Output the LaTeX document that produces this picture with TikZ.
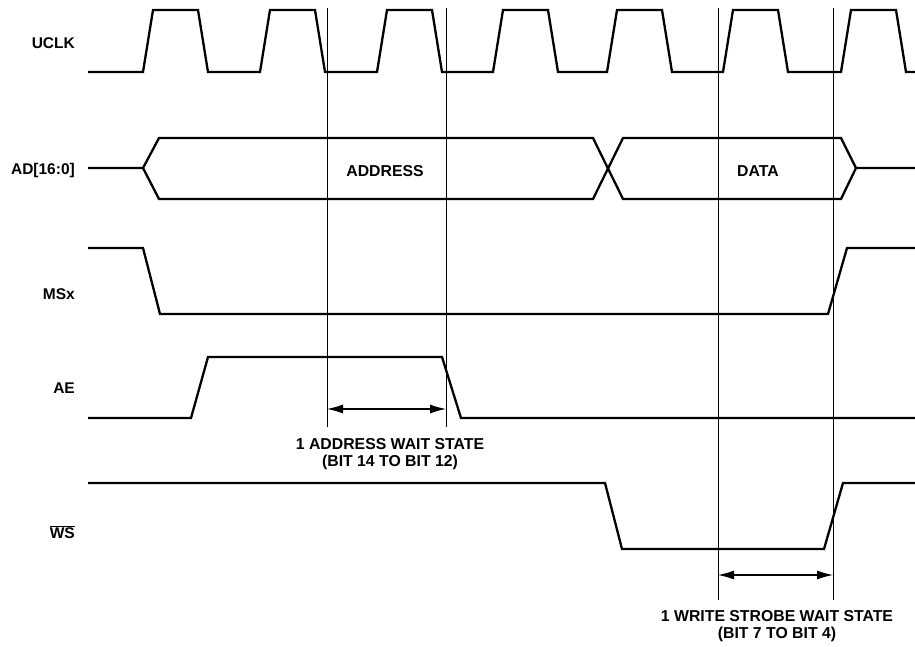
\documentclass[tikz,border=0pt]{standalone}
\usepackage{fontspec}
\setmainfont{Liberation Sans}
\usetikzlibrary{arrows.meta}
\begin{document}
\begin{tikzpicture}[x=1pt,y=-1pt,
  sig/.style={line width=2.3pt,line join=miter},
  guide/.style={line width=0.9pt},
  dim/.style={line width=1.1pt,{Latex[length=16pt,width=9pt]}-{Latex[length=16pt,width=9pt]}},
  lbl/.style={font=\fontsize{15.5}{17}\selectfont\bfseries,inner sep=0pt,anchor=east},
  txt/.style={font=\fontsize{15.8}{17.5}\selectfont\bfseries,inner sep=0pt,align=center}]
\useasboundingbox (0,0) rectangle (915,646);
% labels
\node[lbl] (lclk) at (75,43) {UCLK};
\node[lbl] (lad) at (75,170) {AD[16:0]};
\node[lbl] (lms) at (75,294) {MSx};
\node[lbl] (lae) at (75,388) {AE};
\node[lbl] (lws) at (75,532) {$\overline{\mbox{WS}}$};
% UCLK
\draw[sig] (88,72)
  \foreach \r in {143,260,377,493,607,723,841} {
    -- (\r,72) -- (\r+10,10) -- (\r+55,10) -- (\r+65,72)
  } -- (915,72);
% AD bus
\draw[sig] (88,168) -- (143,168) -- (159,138) -- (593,138) -- (623,199) -- (841,199) -- (856,168) -- (915,168);
\draw[sig] (143,168) -- (159,199) -- (593,199) -- (623,138) -- (841,138) -- (856,168);
\node[txt] (addr) at (385,171) {ADDRESS};
\node[txt] (data) at (758,171) {DATA};
% MSx
\draw[sig] (88,248) -- (143,248) -- (160,314) -- (828,314) -- (847,248) -- (915,248);
% AE
\draw[sig] (88,418) -- (191,418) -- (208,357) -- (442,357) -- (461,418) -- (915,418);
% WS
\draw[sig] (88,483) -- (605,483) -- (622,549) -- (824,549) -- (843,483) -- (915,483);
% guide lines
\coordinate (g1t) at (327,8); \coordinate (g1b) at (327,427);
\coordinate (g2t) at (446,8); \coordinate (g2b) at (446,427);
\coordinate (g3t) at (718,8); \coordinate (g3b) at (718,600);
\coordinate (g4t) at (833,8); \coordinate (g4b) at (833,600);
\draw[guide] (g1t) -- (g1b);
\draw[guide] (g2t) -- (g2b);
\draw[guide] (g3t) -- (g3b);
\draw[guide] (g4t) -- (g4b);
% dimension arrows
\coordinate (a1) at (327,409); \coordinate (a2) at (446,409);
\coordinate (b1) at (718,575); \coordinate (b2) at (833,575);
\draw[dim] (a1) -- (a2);
\draw[dim] (b1) -- (b2);
\node[txt] (wa) at (390,454) {1 ADDRESS WAIT STATE\\(BIT 14 TO BIT 12)};
\node[txt] (ww) at (777,626) {1 WRITE STROBE WAIT STATE\\(BIT 7 TO BIT 4)};
\end{tikzpicture}
\end{document}
